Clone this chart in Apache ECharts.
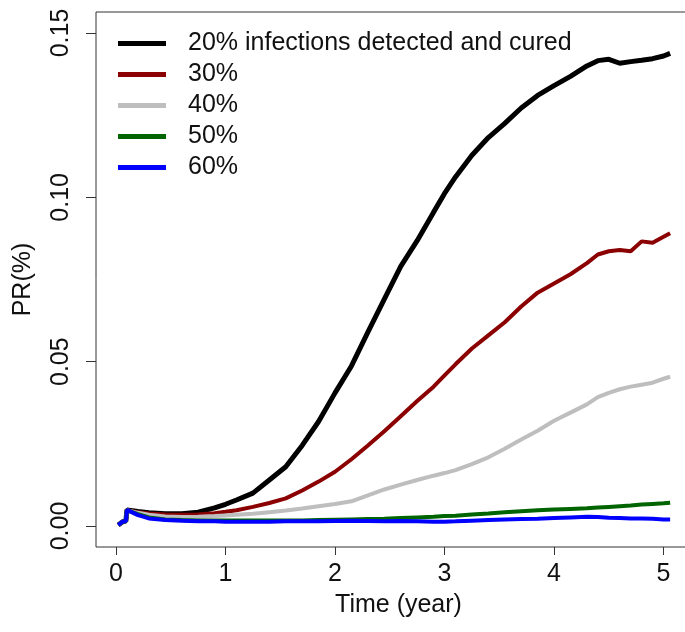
<!DOCTYPE html>
<html>
<head>
<meta charset="utf-8">
<title>PR over time</title>
<script src="https://cdn.jsdelivr.net/npm/echarts@6/dist/echarts.min.js"></script>
<style>
  html, body { margin: 0; padding: 0; background: #fff; }
  #chart { width: 685px; height: 632px; }
</style>
</head>
<body>
<div id="chart"></div>
<script>
// time points (years), shared by all series
const times = [0.02, 0.06, 0.09, 0.1, 0.2, 0.3, 0.45, 0.6, 0.75, 0.9, 1.0, 1.1, 1.25, 1.4, 1.55, 1.7, 1.85, 2.0, 2.15, 2.3, 2.45, 2.6, 2.75, 2.9, 3.0, 3.1, 3.25, 3.4, 3.55, 3.7, 3.85, 4.0, 4.15, 4.3, 4.4, 4.5, 4.6, 4.7, 4.8, 4.9, 5.0, 5.06]

const cured20 = [0.0003, 0.0013, 0.0015, 0.0049, 0.0044, 0.0040, 0.0037, 0.0037, 0.0042, 0.0055, 0.0066, 0.0079, 0.0100, 0.0140, 0.0180, 0.0245, 0.0318, 0.0405, 0.0487, 0.0590, 0.0690, 0.0790, 0.0868, 0.0955, 0.1012, 0.1062, 0.1128, 0.1182, 0.1225, 0.1272, 0.1310, 0.1340, 0.1368, 0.1400, 0.1416, 0.1420, 0.1408, 0.1413, 0.1417, 0.1422, 0.1430, 0.1438]
const cured30 = [0.0003, 0.0013, 0.0015, 0.0048, 0.0042, 0.0038, 0.0035, 0.0034, 0.0035, 0.0039, 0.0043, 0.0048, 0.0058, 0.0070, 0.0084, 0.0108, 0.0135, 0.0165, 0.0203, 0.0245, 0.0288, 0.0334, 0.0380, 0.0424, 0.0458, 0.0492, 0.0540, 0.0580, 0.0620, 0.0668, 0.0710, 0.0738, 0.0766, 0.0800, 0.0826, 0.0836, 0.0840, 0.0836, 0.0866, 0.0862, 0.0880, 0.0891]
const cured40 = [0.0003, 0.0013, 0.0015, 0.0048, 0.0040, 0.0034, 0.0029, 0.0027, 0.0028, 0.0030, 0.0032, 0.0034, 0.0037, 0.0042, 0.0047, 0.0053, 0.0060, 0.0067, 0.0075, 0.0093, 0.0111, 0.0126, 0.0140, 0.0153, 0.0161, 0.0170, 0.0188, 0.0209, 0.0235, 0.0263, 0.0290, 0.0320, 0.0345, 0.0370, 0.0392, 0.0405, 0.0416, 0.0424, 0.0430, 0.0436, 0.0448, 0.0454]
const cured50 = [0.0003, 0.0013, 0.0015, 0.0048, 0.0036, 0.0026, 0.0020, 0.0018, 0.0017, 0.0017, 0.0017, 0.0017, 0.0017, 0.0017, 0.0017, 0.0017, 0.0018, 0.0019, 0.0020, 0.0021, 0.0022, 0.0024, 0.0026, 0.0028, 0.0030, 0.0031, 0.0035, 0.0038, 0.0042, 0.0045, 0.0048, 0.0050, 0.0052, 0.0054, 0.0056, 0.0058, 0.0060, 0.0062, 0.0065, 0.0067, 0.0069, 0.0071]
const cured60 = [0.0003, 0.0013, 0.0015, 0.0049, 0.0033, 0.0023, 0.0018, 0.0016, 0.0014, 0.0014, 0.0013, 0.0013, 0.0013, 0.0013, 0.0014, 0.0014, 0.0014, 0.0015, 0.0016, 0.0015, 0.0014, 0.0015, 0.0014, 0.0013, 0.0013, 0.0014, 0.0016, 0.0018, 0.0020, 0.0021, 0.0022, 0.0024, 0.0026, 0.0028, 0.0027, 0.0025, 0.0024, 0.0023, 0.0023, 0.0022, 0.0020, 0.0020]

const seriesNames = ['20% infections detected and cured', '30%', '40%', '50%', '60%']
const seriesValues = [cured20, cured30, cured40, cured50, cured60]
const seriesColors = ['#000000', '#8b0000', '#bebebe', '#006400', '#0000ff']

const xTicks = [0, 1, 2, 3, 4, 5]
const yTicks = [0, 0.05, 0.1, 0.15]

const font = 'Liberation Sans, Arial, sans-serif'
const chart = echarts.init(document.getElementById('chart'))

chart.setOption({
  animation: false,
  backgroundColor: '#fff',
  textStyle: { fontFamily: font },
  grid: {
    left: 96,
    top: 12,
    width: 605, // box runs past the right edge of the picture
    bottom: 85,
    outerBoundsMode: 'none',
    containLabel: false,
    show: true,
    borderColor: '#333',
    borderWidth: 1
  },
  legend: {
    orient: 'vertical',
    left: 118,
    top: 31,
    padding: 0,
    icon: 'rect',
    itemWidth: 48,
    itemHeight: 5,
    itemGap: 6,
    textStyle: {
      fontFamily: font,
      fontSize: 25,
      lineHeight: 25,
      color: '#111',
      padding: [0, 0, 0, 17]
    },
    data: seriesNames
  },
  xAxis: {
    type: 'value',
    min: -0.183,
    max: 5.342,
    name: 'Time (year)',
    nameLocation: 'middle',
    nameGap: 46,
    nameTextStyle: { fontFamily: font, fontSize: 25, color: '#111' },
    splitLine: { show: false },
    axisLine: { show: false, onZero: false },
    axisTick: { show: true, length: 8, customValues: xTicks, lineStyle: { color: '#333' } },
    axisLabel: {
      customValues: xTicks,
      margin: 15,
      fontFamily: font,
      fontSize: 25,
      color: '#111'
    }
  },
  yAxis: {
    type: 'value',
    min: -0.0064,
    max: 0.1564,
    name: 'PR(%)',
    nameLocation: 'middle',
    nameRotate: 90,
    nameGap: 60,
    nameTextStyle: { fontFamily: font, fontSize: 25, color: '#111' },
    splitLine: { show: false },
    axisLine: { show: false, onZero: false },
    axisTick: { show: true, length: 10, customValues: yTicks, lineStyle: { color: '#333' } },
    axisLabel: {
      customValues: yTicks,
      rotate: 90,
      margin: 22,
      fontFamily: font,
      fontSize: 25,
      color: '#111',
      formatter: v => v.toFixed(2)
    }
  },
  series: seriesNames.map((name, i) => ({
    name,
    type: 'line',
    showSymbol: false,
    symbol: 'none',
    data: times.map((t, j) => [t, seriesValues[i][j]]),
    itemStyle: { color: seriesColors[i] },
    lineStyle: { color: seriesColors[i], width: i === 0 ? 5 : 4 }
  }))
})
</script>
</body>
</html>
